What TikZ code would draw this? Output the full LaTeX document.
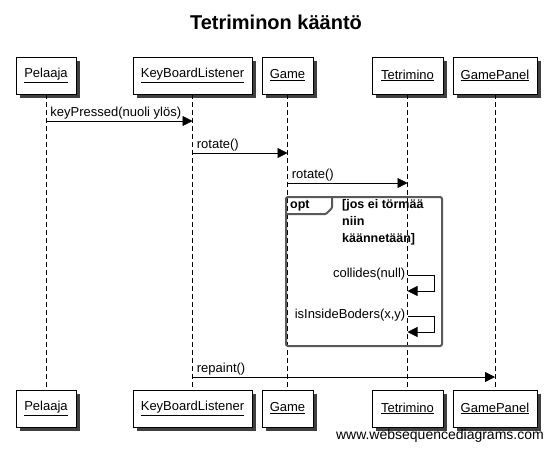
\documentclass[tikz,border=0pt]{standalone}
\usepackage{fontspec}
\setmainfont{Liberation Sans}
\usetikzlibrary{arrows.meta, positioning, calc, backgrounds}

\begin{document}
\begin{tikzpicture}[
    x=1pt, y=-1pt,
    actorbox/.style={
        rectangle, draw=black, fill=white, line width=0.8pt,
        minimum height=37pt, inner sep=0pt, font=\fontsize{13}{15}\selectfont
    },
    lifeline/.style={dash pattern=on 5pt off 3pt, line width=0.7pt},
    msg/.style={-{Triangle[length=10pt, width=10pt]}, line width=0.8pt},
    msglabel/.style={font=\fontsize{13}{15}\selectfont, inner sep=1pt},
    optframe/.style={draw=black!65, line width=2pt, rounded corners=2pt}
]

% Title
\node[font=\fontsize{20}{22}\selectfont\bfseries] (title) at (276,22) {Tetriminon kääntö};

% Nodes
\node[actorbox, minimum width=60pt] (pelaajaT) at (46,75.5) {\underline{Pelaaja}};
\node[actorbox, minimum width=119pt] (kblT) at (192.5,75.5) {\underline{KeyBoardListener}};
\node[actorbox, minimum width=51pt] (gameT) at (287.5,75.5) {\underline{Game}};
\node[actorbox, minimum width=71pt] (tetT) at (407.5,75.5) {\underline{Tetrimino}};
\node[actorbox, minimum width=84pt] (panelT) at (495,75.5) {\underline{GamePanel}};

\node[actorbox, minimum width=60pt] (pelaajaB) at (46,408.5) {\underline{Pelaaja}};
\node[actorbox, minimum width=119pt] (kblB) at (192.5,408.5) {\underline{KeyBoardListener}};
\node[actorbox, minimum width=51pt] (gameB) at (287.5,408.5) {\underline{Game}};
\node[actorbox, minimum width=71pt] (tetB) at (407.5,408.5) {\underline{Tetrimino}};
\node[actorbox, minimum width=84pt] (panelB) at (495,408.5) {\underline{GamePanel}};

% Background and shadows
\begin{scope}[on background layer]
  \path[fill=white] (0,0) rectangle (552,451);
  \foreach \n in {pelaajaT,kblT,gameT,tetT,panelT,pelaajaB,kblB,gameB,tetB,panelB}
    \fill[black!75] ($(\n.north west)+(4,4)$) rectangle ($(\n.south east)+(4,4)$);
\end{scope}

% Lifelines
\draw[lifeline] (pelaajaT) -- (pelaajaB);
\draw[lifeline] (kblT) -- (kblB);
\draw[lifeline] (gameT) -- (gameB);
\draw[lifeline] (tetT) -- (tetB);
\draw[lifeline] (panelT) -- (panelB);

% opt frame
\draw[optframe] (286,197) rectangle (442,346);
\draw[optframe, rounded corners=1pt] (286,214) -- (326,214) -- (332,208) -- (332,197);
\node[font=\fontsize{12.5}{14}\selectfont\bfseries, anchor=west, inner sep=0pt] (optlbl) at (290,206) {opt};
\node[font=\fontsize{12.5}{17}\selectfont\bfseries, anchor=north west, align=left, inner sep=0pt] (guard) at (342,199)
    {[jos ei törmää\\niin\\käännetään]};

% Connections
\draw[msg] (pelaajaT |- 0,121) -- (kblT |- 0,121)
    node[msglabel, pos=0, anchor=south west, xshift=3pt] {keyPressed(nuoli ylös)};
\draw[msg] (kblT |- 0,153) -- (gameT |- 0,153)
    node[msglabel, pos=0, anchor=south west, xshift=3pt] {rotate()};
\draw[msg] (gameT |- 0,183) -- (tetT |- 0,183)
    node[msglabel, pos=0, anchor=south west, xshift=3pt] {rotate()};
\draw[msg] (tetT |- 0,275) -- ++(27,0) -- ++(0,16) -- (tetT |- 0,291);
\node[msglabel, anchor=south east] (coll) at ($(tetT |- 0,281)+(-1,0)$) {collides(null)};
\draw[msg] (tetT |- 0,316) -- ++(27,0) -- ++(0,16) -- (tetT |- 0,332);
\node[msglabel, anchor=south east] (inside) at ($(tetT |- 0,322)+(-1,0)$) {isInsideBoders(x,y)};
\draw[msg] (kblT |- 0,377) -- (panelT |- 0,377)
    node[msglabel, pos=0, anchor=south west, xshift=3pt] {repaint()};

% Watermark
\node[font=\fontsize{14}{16}\selectfont, anchor=east, inner sep=0pt] (wsd) at (544,436) {www.websequencediagrams.com};

\end{tikzpicture}
\end{document}
